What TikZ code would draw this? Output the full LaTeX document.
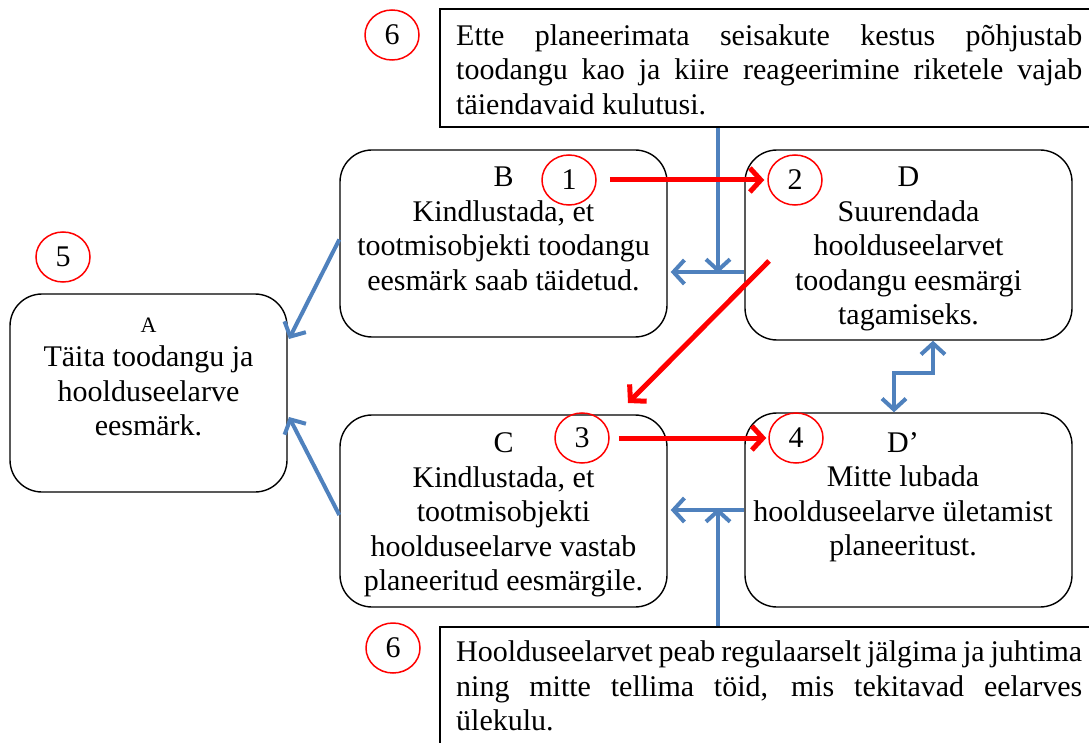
\documentclass[tikz,border=0pt]{standalone}
\usepackage{fontspec}
\setmainfont{Liberation Serif}
\usetikzlibrary{arrows.meta,shapes.geometric}
\definecolor{officeblue}{RGB}{79,129,189}
\begin{document}
\begin{tikzpicture}[x=1pt,y=-1pt,
  goal/.style={draw=black, line width=1.4pt, rounded corners=32pt, inner sep=0pt},
  note/.style={draw=black, line width=1.4pt, inner sep=0pt},
  body/.style={inner sep=0pt, align=center, font=\fontsize{30}{34.5}\selectfont},
  para/.style={inner sep=0pt, align=left, anchor=north west, font=\fontsize{30}{34.5}\selectfont},
  numcirc/.style={draw=red, line width=1.5pt, ellipse, minimum width=54pt, minimum height=50pt,
    inner sep=0pt, font=\fontsize{30}{34.5}\selectfont},
  redarrow/.style={draw=red, line width=5pt, -{Straight Barb[length=11pt,width=24pt]}},
  bluearrow/.style={draw=officeblue, line width=4pt, -{Straight Barb[length=11pt,width=24pt]}},
  bluedouble/.style={draw=officeblue, line width=4pt,
    {Straight Barb[length=11pt,width=24pt]}-{Straight Barb[length=11pt,width=24pt]}},
]
\useasboundingbox (0,0) rectangle (1089,743);

% goal boxes
\node[goal, minimum width=277pt, minimum height=198pt] (A) at (148.5,393) {};
\node[goal, minimum width=327pt, minimum height=187pt] (B) at (503.5,243.5) {};
\node[goal, minimum width=327pt, minimum height=190pt] (D) at (908.5,245) {};
\node[goal, minimum width=327pt, minimum height=192pt] (C) at (503.5,511) {};
\node[goal, minimum width=327pt, minimum height=194pt] (Dp) at (908.5,510) {};

% goal texts
\node[body] (At) at (148.5,381) {{\fontsize{22}{26}\selectfont A}\rule[-7.5pt]{0pt}{24pt}\\
  \strut Täita toodangu ja\\ \strut hoolduseelarve\\ \strut eesmärk.};
\node[body] (Bt) at (503.5,231.5) {\strut B\\ \strut Kindlustada, et\\
  \strut tootmisobjekti toodangu\\ \strut eesmärk saab täidetud.};
\node[body] (Dt) at (908.5,249) {\strut D\\ \strut Suurendada\\ \strut hoolduseelarvet\\
  \strut toodangu eesmärgi\\ \strut tagamiseks.};
\node[body] (Ct) at (503.5,515) {\strut C\\ \strut Kindlustada, et\\ \strut tootmisobjekti\\
  \strut hoolduseelarve vastab\\ \strut planeeritud eesmärgile.};
\node[body] (Dpt) at (903,497) {\strut D’\\ \strut Mitte lubada\\
  \strut hoolduseelarve ületamist\\ \strut planeeritust.};

% note boxes (running off the right and bottom edges)
\node[note, minimum width=660pt, minimum height=118pt] (T) at (770,68) {};
\node[note, minimum width=660pt, minimum height=140pt] (N) at (770,697) {};
\node[para] (Tt) at (456,20.85) {\strut\makebox[626pt][s]{Ette planeerimata seisakute kestus põhjustab}\\
  \strut\makebox[626pt][s]{toodangu kao ja kiire reageerimine riketele vajab}\\
  \strut täiendavaid kulutusi.};
\node[para] (Nt) at (456,637.5) {\strut\makebox[626pt][s]{Hoolduseelarvet peab regulaarselt jälgima ja juhtima}\\
  \strut\makebox[626pt][s]{ning mitte tellima töid, mis tekitavad eelarves}\\
  \strut ülekulu.};

% numbered markers
\node[numcirc] (c6a) at (392,35) {6};
\node[numcirc] (c1) at (569,180) {1};
\node[numcirc] (c2) at (795,180) {2};
\node[numcirc] (c5) at (63,257) {5};
\node[numcirc] (c3) at (582,438) {3};
\node[numcirc] (c4) at (796,438) {4};
\node[numcirc] (c6b) at (393,648) {6};

% blue links into A
\coordinate (aB) at (289,339);
\coordinate (aC) at (289,417);
\draw[bluearrow] ([yshift=4pt]B.west) -- (aB);
\draw[bluearrow] ([yshift=-4pt]C.west) -- (aC);

% upper note joining D -> B
\coordinate (jt) at (718,272);
\draw[bluearrow] (T.south -| jt) -- ([yshift=-1pt]jt);
\draw[bluearrow] (D.west |- jt) -- ([xshift=3pt]B.east |- jt);

% lower note joining D' -> C
\coordinate (jb) at (718,510);
\draw[bluearrow] (N.north -| jb) -- ([yshift=2pt]jb);
\draw[bluearrow] (Dp.west |- jb) -- ([xshift=3pt]C.east |- jb);

% D <-> D'
\coordinate (z1) at (933,373);
\coordinate (z2) at (894,373);
\draw[bluedouble] (D.south -| z1) -- (z1) -- (z2) -- (Dp.north -| z2);

% red chain
\draw[redarrow, shorten <=13pt, shorten >=3pt] (c1.east) -- (c2.west);
\draw[redarrow, shorten <=9pt, shorten >=2pt] (c3.east) -- (c4.west);
\coordinate (r0) at (769,261);
\coordinate (r1) at (628,403);
\draw[redarrow] (r0) -- (r1);
\end{tikzpicture}
\end{document}
